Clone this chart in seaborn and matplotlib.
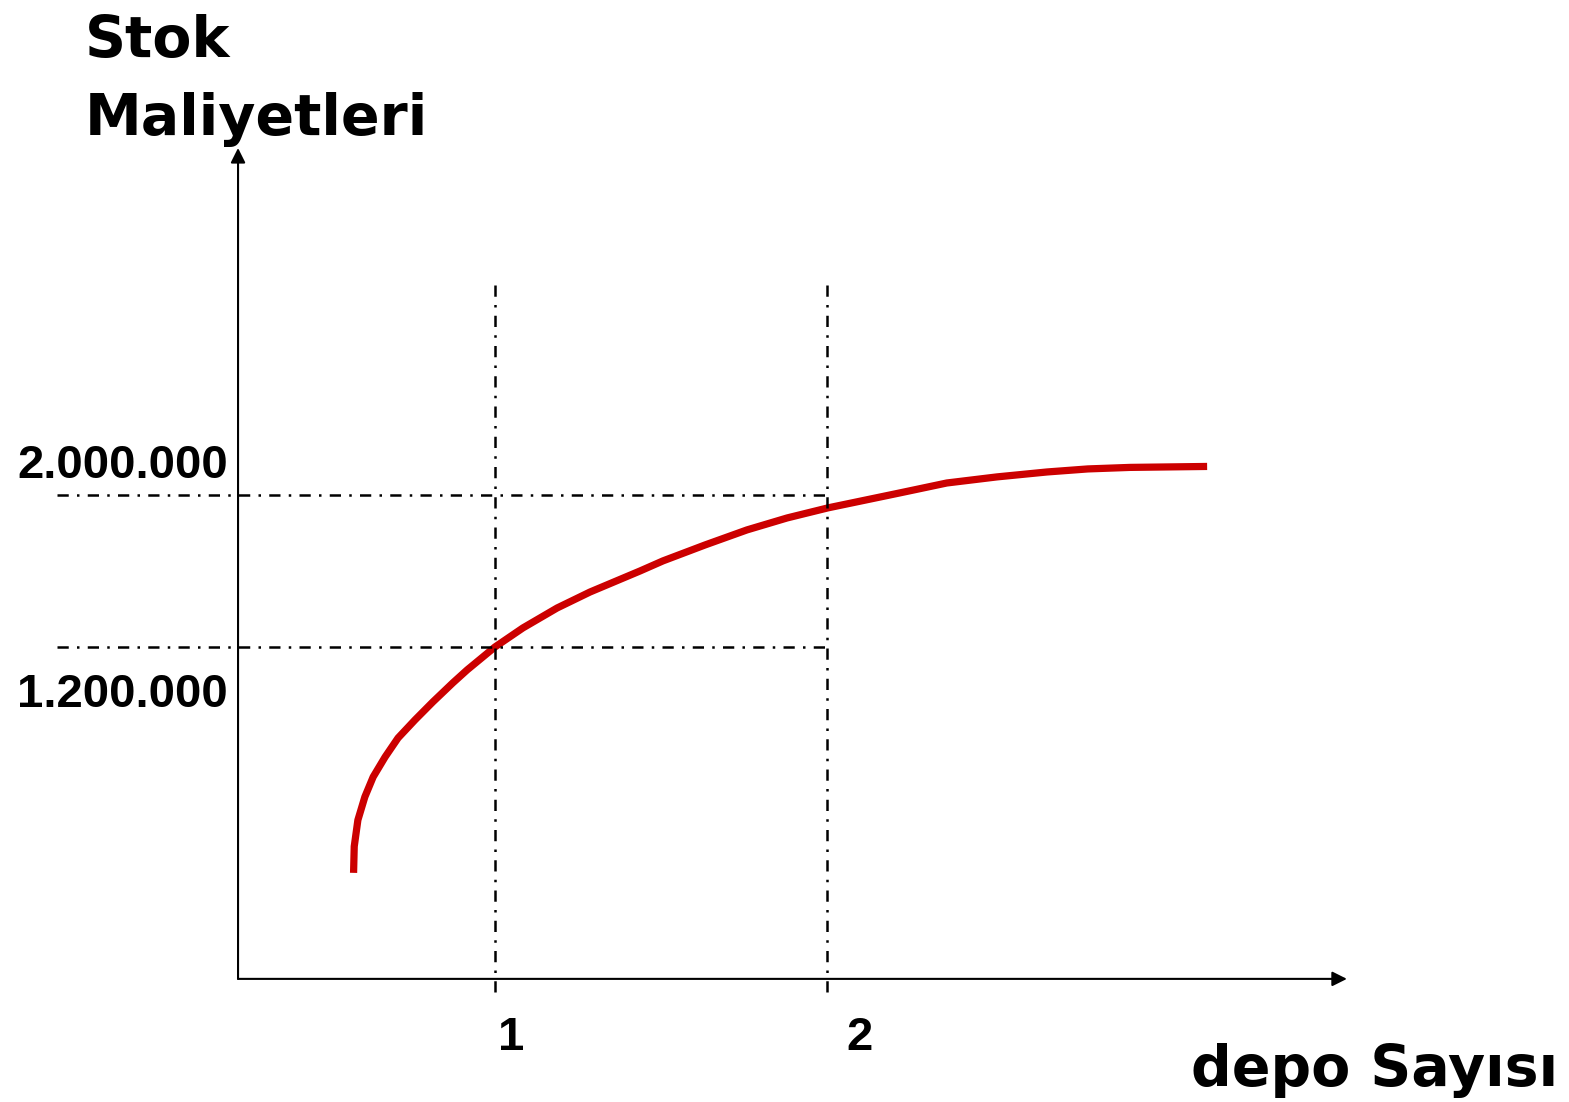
import matplotlib
matplotlib.use("Agg")
import matplotlib.pyplot as plt
import seaborn as sns
import pandas as pd

# curve (x = number of depots, y = stock cost)
depo_x = [0.574, 0.576, 0.587, 0.608, 0.633, 0.669, 0.708, 0.759, 0.813,
          0.873, 0.916, 1.000, 1.084, 1.187, 1.286, 1.437, 1.506, 1.633,
          1.759, 1.880, 2.003, 2.220, 2.361, 2.512, 2.663, 2.786, 2.913,
          3.145]
cost_y = [0.011e6, 0.150e6, 0.289e6, 0.411e6, 0.516e6, 0.621e6, 0.721e6,
          0.816e6, 0.911e6, 1.011e6, 1.079e6, 1.200e6, 1.300e6, 1.405e6,
          1.489e6, 1.600e6, 1.653e6, 1.737e6, 1.816e6, 1.879e6, 1.932e6,
          2.011e6, 2.063e6, 2.095e6, 2.121e6, 2.137e6, 2.145e6, 2.150e6]

ref_x = [1, 2]
ref_y = [1.2e6, 2.0e6]
ref_x_labels = ["1", "2"]
ref_y_labels = ["1.200.000", "2.000.000"]

x_title = "depo Sayısı"
y_title = ["Stok", "Maliyetleri"]

sns.set_theme(style="white")
plt.rcParams["font.family"] = ["DejaVu Sans"]
plt.rcParams["text.color"] = "black"

fig = plt.figure(figsize=(15.69, 11.02), dpi=100)
ax = fig.add_axes([0, 0, 1, 1])
ax.set_xlim(-0.491, 4.235)
ax.set_ylim(-1.195e6, 4.605e6)
ax.axis("off")

df = pd.DataFrame({"depo": depo_x, "maliyet": cost_y})
sns.lineplot(data=df, x="depo", y="maliyet", sort=False, estimator=None,
             color="#cc0000", linewidth=5.2, solid_capstyle="butt",
             solid_joinstyle="round", ax=ax)

# axes with arrows
x0, y0 = 0.226, -0.547e6
ax.annotate("", xy=(3.566, y0), xytext=(x0, y0),
            arrowprops=dict(arrowstyle="-|>", color="black", lw=1.5,
                            mutation_scale=22, shrinkA=0, shrinkB=0))
ax.annotate("", xy=(x0, 3.826e6), xytext=(x0, y0),
            arrowprops=dict(arrowstyle="-|>", color="black", lw=1.5,
                            mutation_scale=22, shrinkA=0, shrinkB=0))

# dash-dot guide lines
dd = (0, (4.5, 3.3, 1.0, 3.3))
for yv in ref_y:
    ax.plot([-0.319, 2.0], [yv, yv], color="black", lw=1.8, linestyle=dd)
for xv in ref_x:
    ax.plot([xv, xv], [3.105e6, -0.658e6], color="black", lw=1.8, linestyle=dd)

num_font = dict(family="Liberation Sans", weight="bold", fontsize=34, color="black")
ax.text(0.196, 2.0e6 + 0.09e6, ref_y_labels[1], ha="right", va="baseline", **num_font)
ax.text(0.196, 1.2e6 - 0.316e6, ref_y_labels[0], ha="right", va="baseline", **num_font)
ax.text(1.048, -0.921e6, ref_x_labels[0], ha="center", va="baseline", **num_font)
ax.text(2.099, -0.921e6, ref_x_labels[1], ha="center", va="baseline", **num_font)

title_font = dict(family="DejaVu Sans", weight="bold", fontsize=41, color="black")
fig.text(85 / 1569, 1 - 57 / 1102, y_title[0], ha="left", va="baseline", **title_font)
fig.text(85 / 1569, 1 - 135 / 1102, y_title[1], ha="left", va="baseline", **title_font)
fig.text(1558 / 1569, 1 - 1086 / 1102, x_title, ha="right", va="baseline", **title_font)

fig.savefig("out.png", dpi=100, facecolor="white")
